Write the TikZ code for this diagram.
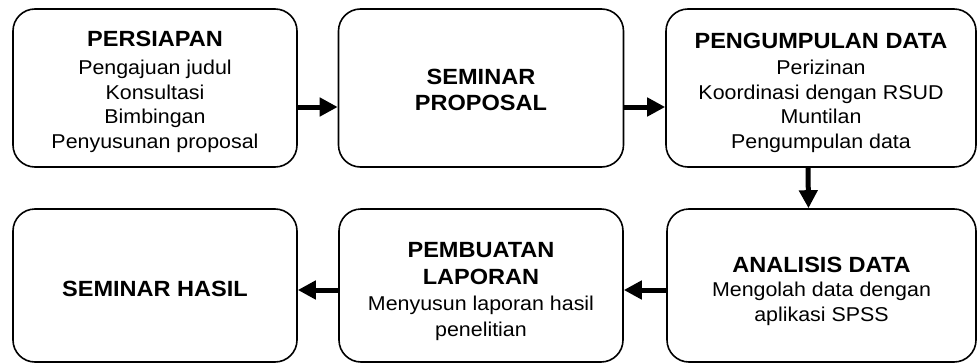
\documentclass[tikz,border=0pt]{standalone}
\usepackage{fontspec}
\setmainfont{Liberation Sans}[FakeStretch=1.07]
\usetikzlibrary{arrows.meta}
\newcommand{\ttl}[1]{{\fontsize{22}{27}\selectfont\bfseries #1}}

\begin{document}
\begin{tikzpicture}[x=1pt, y=-1pt,
    box/.style={draw, line width=1.6pt, rounded corners=22pt, inner sep=0pt, minimum height=158pt},
    txt/.style={align=center, font=\fontsize{20}{24.5}\selectfont, inner sep=0pt},
    arr/.style={-{Triangle[length=18pt, width=18pt]}, line width=5pt}]
  \useasboundingbox (0,0) rectangle (978,364);
  % row 1
  \node[box, minimum width=284pt] (persiapan) at (155, 88) {};
  \node[box, minimum width=285pt] (proposal)  at (481, 88) {};
  \node[box, minimum width=310pt] (kumpul)    at (821, 88) {};
  \node[txt] (persiapan-t) at ([yshift=-4pt]persiapan.center) {\ttl{PERSIAPAN}\\[3.5pt] Pengajuan judul\\ Konsultasi\\ Bimbingan\\ Penyusunan proposal};
  \node[txt] (proposal-t)  at ([yshift=-2pt]proposal.center)  {\ttl{SEMINAR}\\[1.5pt] \ttl{PROPOSAL}};
  \node[txt] (kumpul-t)    at ([yshift=-5pt]kumpul.center)    {\ttl{PENGUMPULAN DATA}\\[1.5pt] Perizinan\\ Koordinasi dengan RSUD\\ Muntilan\\ Pengumpulan data};
  % row 2
  \node[box, minimum width=284pt, minimum height=153pt] (hasil)    at (155, 285.5) {};
  \node[box, minimum width=284pt, minimum height=153pt] (laporan)  at (481, 285.5) {};
  \node[box, minimum width=309pt, minimum height=153pt] (analisis) at (821.5, 285.5) {};
  \node[txt] (hasil-t)    at ([yshift=-3.5pt]hasil.center)  {\ttl{SEMINAR HASIL}};
  \node[txt] (laporan-t)  at ([yshift=-6pt]laporan.center)  {\ttl{PEMBUATAN}\\[2.5pt] \ttl{LAPORAN}\\[1.5pt] Menyusun laporan hasil\\[1.5pt] penelitian};
  \node[txt] (analisis-t) at ([yshift=-6pt]analisis.center) {\ttl{ANALISIS DATA}\\[-0.5pt] Mengolah data dengan\\ aplikasi SPSS};
  % arrows
  \draw[arr] ([yshift=-19pt]persiapan.east) -- ([yshift=-19pt]proposal.west);
  \draw[arr] ([yshift=-19pt]proposal.east)  -- ([yshift=-19pt]kumpul.west);
  \draw[arr] ([xshift=-13pt]kumpul.south)   -- ([xshift=-13pt]analisis.north);
  \draw[arr] ([yshift=-4.5pt]analisis.west) -- ([yshift=-4.5pt]laporan.east);
  \draw[arr] ([yshift=-4.5pt]laporan.west)  -- ([yshift=-4.5pt]hasil.east);
\end{tikzpicture}
\end{document}
